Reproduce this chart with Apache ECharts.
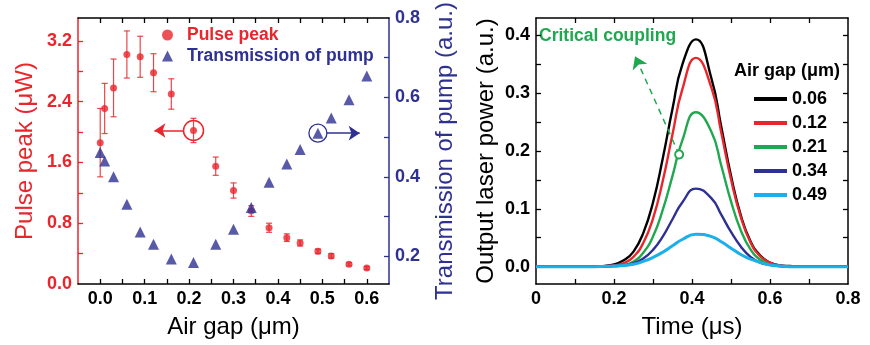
<!DOCTYPE html>
<html>
<head>
<meta charset="utf-8">
<script src="https://cdn.jsdelivr.net/npm/echarts@6/dist/echarts.min.js"></script>
<style>
  html, body { margin: 0; padding: 0; background: #fff; }
  #chart { width: 870px; height: 345px; }
</style>
</head>
<body>
<div id="chart"></div>
<script>
// left panel: air gap sweep
const gapUm = [0.00, 0.01, 0.03, 0.06, 0.09, 0.12, 0.16, 0.21, 0.26, 0.30, 0.34, 0.38, 0.42, 0.45, 0.49, 0.52, 0.56, 0.60];
const pulsePeak = [1.86, 2.31, 2.58, 3.02, 2.99, 2.78, 2.50, 2.02, 1.55, 1.23, 0.96, 0.74, 0.61, 0.54, 0.43, 0.37, 0.26, 0.21];
const pulseErr = [0.45, 0.33, 0.38, 0.31, 0.27, 0.25, 0.20, 0.16, 0.12, 0.10, 0.07, 0.06, 0.05, 0.04, 0.03, 0.03, 0.02, 0.02];
const pumpTrans = [0.461, 0.440, 0.400, 0.331, 0.261, 0.230, 0.193, 0.184, 0.230, 0.268, 0.323, 0.386, 0.432, 0.469, 0.510, 0.548, 0.594, 0.654];

// right panel: output pulses
const timeUs = [0, 0.1, 0.15, 0.2, 0.225, 0.25, 0.275, 0.3, 0.325, 0.35, 0.375, 0.41, 0.45, 0.475, 0.5, 0.525, 0.55, 0.575, 0.6, 0.625, 0.65, 0.7, 0.8];
const gapNames = ['0.06', '0.12', '0.21', '0.34', '0.49'];
const pulse006 = [0, 0, 0, 0.004, 0.011, 0.026, 0.058, 0.111, 0.187, 0.273, 0.349, 0.393, 0.325, 0.242, 0.157, 0.089, 0.044, 0.019, 0.007, 0.002, 0.001, 0, 0];
const pulse012 = [0, 0, 0, 0.002, 0.006, 0.017, 0.041, 0.083, 0.148, 0.229, 0.306, 0.361, 0.309, 0.232, 0.151, 0.086, 0.042, 0.018, 0.007, 0.002, 0, 0, 0];
const pulse021 = [0, 0, 0, 0.001, 0.003, 0.009, 0.024, 0.052, 0.098, 0.157, 0.218, 0.267, 0.233, 0.175, 0.113, 0.063, 0.030, 0.012, 0.004, 0.001, 0, 0, 0];
const pulse034 = [0, 0, 0, 0.001, 0.002, 0.006, 0.014, 0.029, 0.052, 0.082, 0.111, 0.135, 0.118, 0.090, 0.060, 0.035, 0.017, 0.007, 0.003, 0.001, 0, 0, 0];
const pulse049 = [0, 0, 0, 0.001, 0.002, 0.004, 0.009, 0.016, 0.025, 0.036, 0.047, 0.056, 0.052, 0.043, 0.032, 0.021, 0.013, 0.007, 0.003, 0.001, 0, 0, 0];

const RED = '#e8262c';
const BLUE = '#2e3192';
const GREEN = '#1fa84f';
const CYAN = '#1cb0ea';
const lineColors = ['#000000', RED, GREEN, BLUE, CYAN];
const FONT = 'Liberation Sans, Arial, sans-serif';

const chart = echarts.init(document.getElementById('chart'));

const fix1 = v => v.toFixed(1);
const tickStyle = (color, vals) => ({ show: true, inside: true, length: 5, customValues: vals, lineStyle: { color: color, width: 1.3 } });
const lineStyle = color => ({ show: true, onZero: false, lineStyle: { color: color, width: 1.5 } });
const labelStyle = (color, vals, fmt) => ({ show: true, customValues: vals, formatter: fmt, color: color, fontFamily: FONT, fontWeight: 'bold', fontSize: 18, margin: 6 });
const titleStyle = color => ({ color: color, fontFamily: FONT, fontSize: 24 });

const gapTicks = [0, 0.05, 0.1, 0.15, 0.2, 0.25, 0.3, 0.35, 0.4, 0.45, 0.5, 0.55, 0.6];
const timeTicks = [0.1, 0.2, 0.3, 0.4, 0.5, 0.6, 0.7];
const powerTicks = [0, 0.05, 0.1, 0.15, 0.2, 0.25, 0.3, 0.35, 0.4];

const errData = gapUm.map((g, i) => [g, pulsePeak[i] - pulseErr[i], pulsePeak[i] + pulseErr[i]]);

chart.setOption({
  animation: false,
  grid: [
    { left: 78, top: 18, width: 311, height: 266 },
    { left: 536, top: 18, width: 312, height: 266 }
  ],
  title: [{
    text: 'Air gap (\u03bcm)', left: 729, top: 57,
    textStyle: { color: '#000', fontFamily: FONT, fontWeight: 'bold', fontSize: 18 }
  }],
  legend: [{
    left: 157, top: 21, orient: 'vertical', itemGap: 3, itemWidth: 11, itemHeight: 11,
    data: [
      { name: 'Pulse peak', icon: 'circle', textStyle: { color: RED } },
      { name: 'Transmission of pump', icon: 'triangle', textStyle: { color: BLUE } }
    ],
    textStyle: { fontFamily: FONT, fontWeight: 'bold', fontSize: 17.5, padding: [0, 0, 0, 9] }
  }, {
    left: 749, top: 85, orient: 'vertical', itemGap: 6, itemWidth: 33, itemHeight: 4,
    data: gapNames.map((n, k) => ({ name: n, icon: 'rect', itemStyle: { color: lineColors[k] } })),
    textStyle: { color: '#000', fontFamily: FONT, fontWeight: 'bold', fontSize: 18 }
  }],
  graphic: [{
    type: 'text', left: 539, top: 27,
    style: { text: 'Critical coupling', fill: GREEN, font: 'bold 17.5px ' + FONT }
  }],
  xAxis: [
    {
      gridIndex: 0, type: 'value', min: -0.05, max: 0.65, position: 'bottom',
      name: 'Air gap (\u03bcm)', nameLocation: 'middle', nameGap: 31, nameTextStyle: titleStyle('#000'),
      axisLine: lineStyle('#000'), axisTick: tickStyle('#000', gapTicks),
      axisLabel: labelStyle('#000', [0, 0.1, 0.2, 0.3, 0.4, 0.5, 0.6], fix1), splitLine: { show: false }
    },
    {
      gridIndex: 0, type: 'value', min: -0.05, max: 0.65, position: 'top',
      axisLine: lineStyle('#000'), axisTick: tickStyle('#000', gapTicks),
      axisLabel: { show: false }, splitLine: { show: false }
    },
    {
      gridIndex: 1, type: 'value', min: 0, max: 0.8, position: 'bottom',
      name: 'Time (\u03bcs)', nameLocation: 'middle', nameGap: 31, nameTextStyle: titleStyle('#000'),
      axisLine: lineStyle('#000'), axisTick: tickStyle('#000', timeTicks),
      axisLabel: labelStyle('#000', [0, 0.2, 0.4, 0.6, 0.8], v => v === 0 ? '0' : v.toFixed(1)), splitLine: { show: false }
    },
    {
      gridIndex: 1, type: 'value', min: 0, max: 0.8, position: 'top',
      axisLine: lineStyle('#000'), axisTick: tickStyle('#000', timeTicks),
      axisLabel: { show: false }, splitLine: { show: false }
    }
  ],
  yAxis: [
    {
      gridIndex: 0, type: 'value', min: 0, max: 3.5, position: 'left',
      name: 'Pulse peak (\u03bcW)', nameLocation: 'middle', nameGap: 41, nameTextStyle: titleStyle(RED),
      axisLine: lineStyle(RED), axisTick: tickStyle(RED, [0.4, 0.8, 1.2, 1.6, 2.0, 2.4, 2.8, 3.2]),
      axisLabel: labelStyle(RED, [0, 0.8, 1.6, 2.4, 3.2], fix1), splitLine: { show: false }
    },
    {
      gridIndex: 0, type: 'value', min: 0.13, max: 0.8, position: 'right',
      name: 'Transmission of pump (a.u.)', nameLocation: 'middle', nameRotate: 90, nameGap: 44, nameTextStyle: titleStyle(BLUE),
      axisLine: lineStyle(BLUE), axisTick: tickStyle(BLUE, [0.2, 0.3, 0.4, 0.5, 0.6, 0.7]),
      axisLabel: labelStyle(BLUE, [0.2, 0.4, 0.6, 0.8], fix1), splitLine: { show: false }
    },
    {
      gridIndex: 1, type: 'value', min: -0.03, max: 0.43, position: 'left',
      name: 'Output laser power (a.u.)', nameLocation: 'middle', nameGap: 38, nameTextStyle: titleStyle('#000'),
      axisLine: lineStyle('#000'), axisTick: tickStyle('#000', powerTicks),
      axisLabel: labelStyle('#000', [0, 0.1, 0.2, 0.3, 0.4], fix1), splitLine: { show: false }
    },
    {
      gridIndex: 1, type: 'value', min: -0.03, max: 0.43, position: 'right',
      axisLine: lineStyle('#000'), axisTick: tickStyle('#000', powerTicks),
      axisLabel: { show: false }, splitLine: { show: false }
    }
  ],
  series: [
    {
      name: 'Pulse error', type: 'custom', xAxisIndex: 0, yAxisIndex: 0,
      data: errData, encode: { x: 0, y: [1, 2] }, silent: true, z: 2,
      renderItem: function (params, api) {
        const lo = api.coord([api.value(0), api.value(1)]);
        const hi = api.coord([api.value(0), api.value(2)]);
        const w = 3;
        const st = { stroke: RED, lineWidth: 1.2, opacity: 0.85 };
        return {
          type: 'group', children: [
            { type: 'line', shape: { x1: lo[0], y1: lo[1], x2: hi[0], y2: hi[1] }, style: st },
            { type: 'line', shape: { x1: lo[0] - w, y1: lo[1], x2: lo[0] + w, y2: lo[1] }, style: st },
            { type: 'line', shape: { x1: hi[0] - w, y1: hi[1], x2: hi[0] + w, y2: hi[1] }, style: st }
          ]
        };
      }
    },
    {
      name: 'Pulse peak', type: 'scatter', xAxisIndex: 0, yAxisIndex: 0, z: 3,
      symbol: 'circle', symbolSize: 7, itemStyle: { color: RED },
      data: gapUm.map((g, i) => [g, pulsePeak[i]]),
      markPoint: {
        symbol: 'circle', symbolSize: 20, label: { show: false },
        itemStyle: { color: 'rgba(0,0,0,0)', borderColor: RED, borderWidth: 1.5 },
        data: [{ coord: [0.21, 2.02] }]
      },
      markLine: {
        silent: true, label: { show: false },
        lineStyle: { color: RED, width: 1.5, type: 'solid' },
        data: [[
          { coord: [0.187, 2.02], symbol: 'none' },
          { coord: [0.122, 2.02], symbol: 'arrow', symbolSize: 11 }
        ]]
      }
    },
    {
      name: 'Transmission of pump', type: 'scatter', xAxisIndex: 0, yAxisIndex: 1, z: 3,
      symbol: 'triangle', symbolSize: 11, itemStyle: { color: BLUE },
      data: gapUm.map((g, i) => [g, pumpTrans[i]]),
      markPoint: {
        symbol: 'circle', symbolSize: 18, label: { show: false },
        itemStyle: { color: 'rgba(0,0,0,0)', borderColor: BLUE, borderWidth: 1.3 },
        data: [{ coord: [0.49, 0.51] }]
      },
      markLine: {
        silent: true, label: { show: false },
        lineStyle: { color: BLUE, width: 1.5, type: 'solid' },
        data: [[
          { coord: [0.51, 0.51], symbol: 'none' },
          { coord: [0.584, 0.51], symbol: 'arrow', symbolSize: 11 }
        ]]
      }
    }
  ].concat([pulse006, pulse012, pulse021, pulse034, pulse049].map((vals, k) => {
    const s = {
      name: gapNames[k], type: 'line', xAxisIndex: 2, yAxisIndex: 2,
      symbol: 'none', smooth: 0.5,
      lineStyle: { color: lineColors[k], width: k === 4 ? 3 : 2.4 },
      itemStyle: { color: lineColors[k] },
      data: timeUs.map((t, i) => [t, vals[i]])
    };
    if (k === 2) {
      s.markLine = {
        silent: true, label: { show: false },
        lineStyle: { color: GREEN, width: 1.5, type: [6, 5] },
        data: [[
          { coord: [0.367, 0.194], symbol: 'emptyCircle', symbolSize: 8 },
          { coord: [0.254, 0.364], symbol: 'arrow', symbolSize: 12 }
        ]]
      };
    }
    return s;
  }))
});
</script>
</body>
</html>
